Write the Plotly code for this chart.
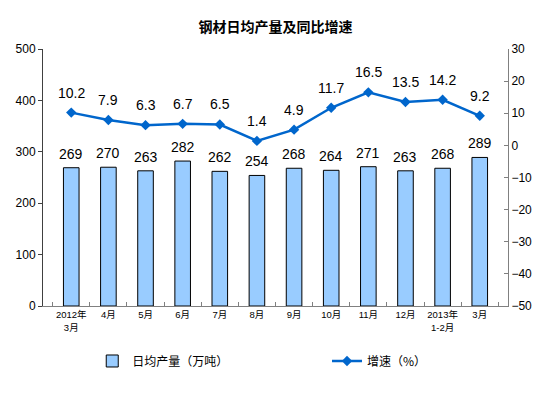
import plotly.graph_objects as go

categories = ["2012年<br>3月", "4月", "5月", "6月", "7月", "8月", "9月", "10月", "11月", "12月", "2013年<br>1-2月", "3月"]
output = [269, 270, 263, 282, 262, 254, 268, 264, 271, 263, 268, 289]
growth = [10.2, 7.9, 6.3, 6.7, 6.5, 1.4, 4.9, 11.7, 16.5, 13.5, 14.2, 9.2]

num_font = "Liberation Sans, Arial, sans-serif"
cjk_font = "Noto Sans CJK SC, sans-serif"
tick_font = "Liberation Sans, Noto Sans CJK SC, sans-serif"

fig = go.Figure()
fig.add_trace(go.Bar(
    x=categories, y=output, name="日均产量（万吨）",
    marker=dict(color="#99CCFF", line=dict(color="black", width=1)),
    legend="legend",
))
fig.add_trace(go.Scatter(
    x=categories, y=growth, name="增速（%）", yaxis="y2",
    mode="lines+markers",
    line=dict(color="#0066CC", width=2.5),
    marker=dict(symbol="diamond", size=8, color="#0066CC"),
    legend="legend2",
))

annotations = []
for c, v in zip(categories, output):
    annotations.append(dict(x=c, y=v, xref="x", yref="y", text=str(v), showarrow=False,
                            yshift=14, font=dict(family=num_font, size=14, color="black")))
for c, v in zip(categories, growth):
    annotations.append(dict(x=c, y=v, xref="x", yref="y2", text=f"{v:.1f}", showarrow=False,
                            yshift=20, font=dict(family=num_font, size=14, color="black")))

fig.update_layout(
    width=559, height=398,
    margin=dict(l=43, r=51, t=49, b=92, autoexpand=False),
    paper_bgcolor="white", plot_bgcolor="white",
    title=dict(text="<b>钢材日均产量及同比增速</b>", x=0.493, xanchor="center", y=0.932, yanchor="middle",
               font=dict(family=cjk_font, size=14, color="black")),
    bargap=0.58,
    showlegend=True,
    annotations=annotations,
    xaxis=dict(
        type="category", showline=True, linecolor="#808080", linewidth=1,
        ticks="inside", tickson="boundaries", ticklen=4, tickcolor="#808080",
        tickfont=dict(family=tick_font, size=9.5, color="black"),
        tickangle=0, automargin=False,
        showgrid=False, zeroline=False,
    ),
    yaxis=dict(
        range=[0, 500], dtick=100, showline=True, linecolor="#404040", linewidth=1,
        ticks="outside", ticklen=4, tickcolor="#404040", automargin=False,
        tickfont=dict(family=num_font, size=12, color="black"),
        showgrid=False, zeroline=False,
    ),
    yaxis2=dict(
        range=[-50, 30], dtick=10, overlaying="y", side="right",
        showline=True, linecolor="#808080", linewidth=1,
        ticks="inside", ticklen=4, tickcolor="#808080", automargin=False,
        tickfont=dict(family=num_font, size=12, color="black"),
        showgrid=False, zeroline=False,
    ),
    legend=dict(xref="container", yref="container", x=0.165, y=0.093, xanchor="left", yanchor="middle",
                orientation="h", font=dict(family=cjk_font, size=12, color="black"),
                bgcolor="rgba(0,0,0,0)"),
    legend2=dict(xref="container", yref="container", x=0.585, y=0.093, xanchor="left", yanchor="middle",
                 orientation="h", font=dict(family=cjk_font, size=12, color="black"),
                 bgcolor="rgba(0,0,0,0)"),
)

fig.write_html("out.html", config={"displayModeBar": False},
               post_script="document.body.style.margin='0';")
